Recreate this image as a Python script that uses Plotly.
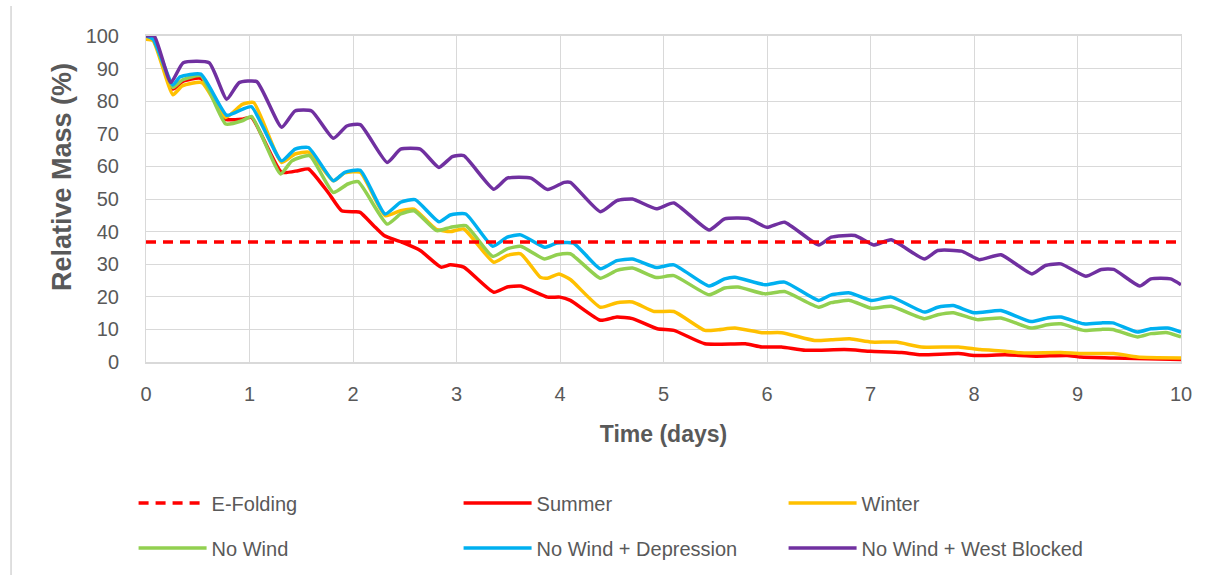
import math
import plotly.graph_objects as go

# Relative mass (%) versus time (days) for each scenario
t_summer = [0, 0.07, 0.26, 0.35, 0.53, 0.77, 0.93, 1.02, 1.31, 1.47, 1.57, 1.76, 1.89, 2.02, 2.07, 2.2, 2.3,
            2.46, 2.65, 2.85, 2.94, 3.07, 3.36, 3.49, 3.62, 3.88, 4.0, 4.1, 4.39, 4.55, 4.7, 4.94, 5.1, 5.4,
            5.79, 5.95, 6.14, 6.37, 6.75, 7.0, 7.3, 7.49, 7.85, 8.0, 8.3, 8.6, 8.9, 9.03, 9.35, 10]
v_summer = [100, 99, 83.7, 86, 87, 74.5, 74.5, 75, 58.2, 58.7, 59.2, 52, 46.4, 46.1, 45.9, 41.8, 38.8,
            36.9, 34.2, 29.1, 29.8, 29.1, 21.4, 23, 23.3, 19.9, 19.9, 18.9, 12.8, 13.8, 13.3, 10.2, 9.7, 5.6,
            5.6, 4.6, 4.6, 3.6, 3.8, 3.3, 2.9, 2.2, 2.6, 2.0, 2.2, 1.8, 2.0, 1.5, 1.2, 0.8]

t_winter = [0, 0.07, 0.26, 0.35, 0.54, 0.77, 0.93, 1.04, 1.31, 1.44, 1.58, 1.81, 1.92, 2.07, 2.31, 2.46,
            2.59, 2.8, 2.94, 3.07, 3.36, 3.49, 3.62, 3.81, 3.88, 3.99, 4.1, 4.39, 4.55, 4.7, 4.91, 5.1, 5.4,
            5.53, 5.69, 5.95, 6.14, 6.46, 6.62, 6.8, 7.01, 7.25, 7.49, 7.85, 8.06, 8.3, 8.45, 8.84, 9.03,
            9.35, 9.58, 10]
v_winter = [99, 98.5, 82, 84.7, 85.7, 75, 79, 79.6, 61.2, 63.8, 64.3, 55.6, 58, 58.2, 44.9, 46.4,
            46.9, 40.8, 40, 40.8, 30.6, 32.7, 33.2, 26, 25.7, 27, 25.3, 16.8, 18.2, 18.4, 15.5, 15.5, 9.7,
            9.9, 10.4, 9.0, 9.0, 6.6, 6.8, 7.1, 6.1, 6.1, 4.6, 4.6, 3.8, 3.3, 2.8, 2.9, 2.6,
            2.6, 1.5, 1.2]

t_nowind = [0, 0.07, 0.26, 0.35, 0.53, 0.77, 0.93, 1.02, 1.3, 1.41, 1.58, 1.81, 1.95, 2.05, 2.33, 2.46,
            2.59, 2.81, 2.94, 3.09, 3.35, 3.49, 3.62, 3.85, 3.97, 4.1, 4.39, 4.55, 4.7, 4.93, 5.1, 5.44,
            5.59, 5.72, 5.98, 6.17, 6.5, 6.62, 6.8, 7.01, 7.2, 7.52, 7.65, 7.8, 8.03, 8.26, 8.55, 8.71,
            8.84, 9.06, 9.23, 9.34, 9.58, 9.71, 9.87, 10]
v_nowind = [100, 99, 84.2, 86.5, 87.8, 73, 74, 75.3, 57.7, 61.7, 63.3, 52, 54.6, 55.3, 42.3, 45.4,
            46.4, 40.3, 41.3, 41.8, 32.4, 34.7, 35.5, 31.6, 32.9, 33.2, 25.7, 28.1, 28.8, 25.9, 26.5, 20.6,
            22.7, 23, 20.9, 21.6, 16.8, 18.2, 18.9, 16.5, 17.1, 13.3, 14.5, 15.1, 13.0, 13.5, 10.4, 11.4,
            11.7, 9.7, 10, 10, 7.7, 8.7, 9.0, 7.7]

t_depression = [0, 0.07, 0.26, 0.33, 0.53, 0.78, 0.93, 1.02, 1.31, 1.44, 1.57, 1.81, 1.92, 2.07, 2.31,
                2.46, 2.6, 2.83, 2.94, 3.09, 3.35, 3.49, 3.62, 3.85, 3.97, 4.13, 4.39, 4.55, 4.7, 4.93,
                5.1, 5.44, 5.59, 5.69, 5.98, 6.17, 6.5, 6.62, 6.8, 7.01, 7.2, 7.52, 7.65, 7.8, 8.0, 8.26,
                8.55, 8.71, 8.84, 9.06, 9.23, 9.34, 9.58, 9.71, 9.87, 10]
v_depression = [100, 99, 85, 87.5, 88.3, 75.7, 77.5, 78.3, 61.7, 65.3, 65.8, 55.6, 58.2, 58.8, 45.4,
                49, 49.8, 43, 45.1, 45.4, 35.5, 38.3, 39, 35.2, 36.5, 36.5, 28.6, 31.1, 31.6, 29,
                29.8, 23.3, 25.5, 26, 23.7, 24.5, 18.9, 20.6, 21.2, 18.9, 19.9, 15.3, 16.8, 17.3, 15.1, 15.8,
                12.4, 13.5, 13.8, 11.7, 12, 12, 9.2, 10.2, 10.4, 9.2]

t_westblocked = [0, 0.08, 0.24, 0.36, 0.61, 0.78, 0.9, 1.07, 1.31, 1.44, 1.6, 1.81, 1.94, 2.07, 2.33,
                 2.46, 2.65, 2.83, 2.96, 3.07, 3.36, 3.49, 3.72, 3.88, 4.04, 4.1, 4.39, 4.55, 4.7, 4.93,
                 5.1, 5.44, 5.59, 5.82, 6.0, 6.17, 6.5, 6.62, 6.85, 7.03, 7.2, 7.52, 7.65, 7.88, 8.05,
                 8.26, 8.56, 8.69, 8.84, 9.08, 9.23, 9.35, 9.6, 9.71, 9.9, 10]
v_westblocked = [100, 100, 85.7, 91.8, 91.8, 80.6, 85.7, 86, 72, 77, 77, 68.6, 72.4, 72.8, 61.2,
                 65.3, 65.3, 59.7, 63, 63.3, 53, 56.4, 56.4, 52.9, 55.1, 55.1, 46.1, 49.5, 50, 47,
                 48.8, 40.5, 43.9, 44, 41.3, 42.9, 35.9, 38.3, 38.8, 35.9, 37.5, 31.6, 34.2, 34, 31.4,
                 32.9, 27, 29.6, 30.1, 26.3, 28.4, 28.4, 23.3, 25.5, 25.5, 23.7]

# e-folding level: 1/e of the initial mass
t_efold = [0, 10]
v_efold = [100 / math.e, 100 / math.e]

FONT = "Liberation Sans, Arial, sans-serif"
TEXT = "#595959"
GRID = "#D9D9D9"

fig = go.Figure()

series = [
    ("E-Folding", t_efold, v_efold, "#FF0000", "10px,7px", "legend"),
    ("Summer", t_summer, v_summer, "#FF0000", "solid", "legend"),
    ("Winter", t_winter, v_winter, "#FFC000", "solid", "legend"),
    ("No Wind", t_nowind, v_nowind, "#92D050", "solid", "legend2"),
    ("No Wind + Depression", t_depression, v_depression, "#00B0F0", "solid", "legend2"),
    ("No Wind + West Blocked", t_westblocked, v_westblocked, "#7030A0", "solid", "legend2"),
]

# draw the dashed reference on top of the scenario lines
order = [1, 2, 3, 4, 5, 0]
for i in order:
    name, t, v, color, dash, lg = series[i]
    fig.add_trace(go.Scatter(
        x=t, y=v, mode="lines", name=name, legend=lg,
        line=dict(color=color, width=3.5, dash=dash,
                  shape="linear" if i == 0 else "spline", smoothing=0.5),
        legendrank=i,
    ))

legend_common = dict(
    orientation="h", xanchor="left", yanchor="middle",
    entrywidth=242, entrywidthmode="pixels",
    font=dict(family=FONT, size=20, color=TEXT),
    bgcolor="rgba(0,0,0,0)", itemwidth=68,
    traceorder="normal",
)

fig.update_layout(
    width=1213, height=575,
    margin=dict(l=146, r=32, t=36, b=213, autoexpand=False),
    paper_bgcolor="white", plot_bgcolor="white",
    font=dict(family=FONT, color=TEXT),
    legend=dict(x=-0.012, y=(362 - 503) / 326, **legend_common),
    legend2=dict(x=-0.012, y=(362 - 548) / 326, **legend_common),
    xaxis=dict(
        range=[0, 10], dtick=1, tick0=0, automargin=False,
        showgrid=True, gridcolor=GRID, gridwidth=1,
        zeroline=False, showline=True, linecolor=GRID, linewidth=1.5, mirror=True,
        ticks="", ticklabelstandoff=13,
        tickfont=dict(family=FONT, size=20, color=TEXT),
        title=dict(text="<b>Time (days)</b>", font=dict(family=FONT, size=23, color=TEXT), standoff=22),
    ),
    yaxis=dict(
        range=[0, 100], dtick=10, tick0=0, automargin=False,
        showgrid=True, gridcolor=GRID, gridwidth=1,
        zeroline=False, showline=True, linecolor=GRID, linewidth=1, mirror=True,
        ticks="", ticklabelstandoff=22,
        tickfont=dict(family=FONT, size=20, color=TEXT),
    ),
    annotations=[dict(
        text="<b>Relative Mass (%)</b>", textangle=-90,
        xref="paper", yref="paper", x=(62 - 146) / 1035, y=(362 - 177) / 326,
        xanchor="center", yanchor="middle", showarrow=False,
        font=dict(family=FONT, size=27, color=TEXT),
    )],
    shapes=[dict(
        type="line", xref="paper", yref="paper",
        x0=-0.1304, x1=-0.1304, y0=1.092, y1=-0.66,
        line=dict(color="#BFBFBF", width=1),
    )],
)

fig.write_html("out.html")
